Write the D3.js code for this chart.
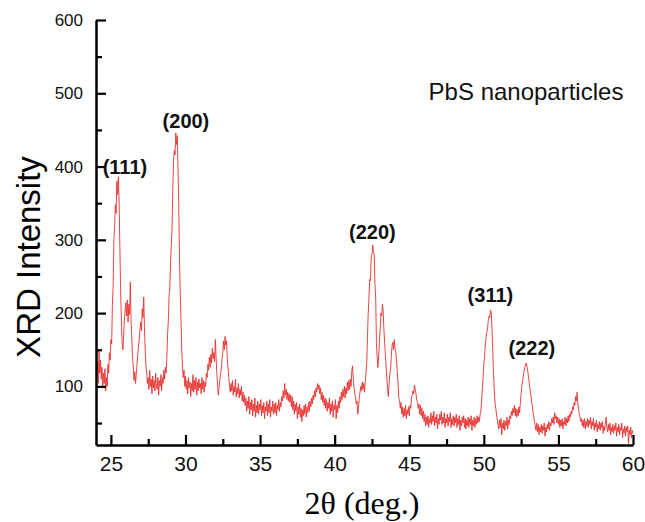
<!DOCTYPE html>
<html>
<head>
<meta charset="utf-8">
<script src="https://cdn.jsdelivr.net/npm/d3@7"></script>
<style>
  body { margin: 0; background: #fff; }
  svg { display: block; }
</style>
</head>
<body>
<div id="chart"></div>
<script>
'use strict'

// scan grid (2theta, degrees)
const scanStart = 24.0
const scanStep = 0.05

// intensities, one row per degree (x.00 .. x.95)
const intensity = [
	128, 112, 134, 104, 150, 118, 136, 110, 126, 98, 118, 104, 124, 94, 112, 100, 130, 118, 146, 136,           // 24
	164, 158, 212, 236, 300, 318, 348, 336, 380, 362, 386, 352, 290, 232, 190, 160, 150, 166, 190, 204,         // 25
	214, 196, 218, 188, 212, 198, 242, 190, 166, 140, 126, 108, 120, 104, 116, 130, 142, 156, 164, 178,         // 26
	188, 176, 206, 194, 222, 180, 148, 128, 118, 104, 112, 96, 122, 100, 110, 90, 114, 98, 108, 94,             // 27
	118, 100, 96, 112, 88, 108, 100, 116, 94, 112, 104, 122, 110, 126, 118, 140, 172, 190, 224, 236,            // 28
	270, 292, 316, 372, 408, 422, 416, 446, 430, 442, 396, 345, 272, 226, 190, 150, 126, 112, 122, 100,         // 29
	114, 96, 108, 90, 112, 98, 106, 86, 104, 94, 116, 92, 108, 96, 112, 88, 106, 94, 110, 98,                   // 30
	104, 90, 112, 96, 108, 92, 106, 100, 118, 112, 130, 122, 140, 126, 144, 132, 152, 138, 146, 134,            // 31
	164, 140, 118, 102, 88, 98, 108, 116, 124, 138, 146, 162, 150, 168, 156, 162, 138, 126, 112, 100,           // 32
	92, 104, 94, 108, 88, 100, 92, 110, 86, 98, 90, 104, 84, 96, 88, 100, 80, 92, 78, 88,                       // 33
	74, 84, 66, 80, 70, 86, 62, 78, 68, 82, 60, 76, 66, 84, 58, 74, 64, 80, 62, 76,                             // 34
	68, 82, 60, 74, 64, 78, 56, 72, 66, 80, 60, 76, 64, 82, 58, 72, 66, 80, 62, 76,                             // 35
	64, 78, 60, 74, 68, 82, 66, 78, 72, 86, 80, 94, 84, 104, 88, 96, 82, 92, 80, 90,                            // 36
	78, 88, 72, 86, 68, 80, 62, 76, 66, 78, 56, 72, 62, 76, 58, 70, 52, 68, 60, 74,                             // 37
	62, 76, 58, 72, 64, 78, 66, 80, 72, 84, 76, 88, 82, 94, 86, 98, 92, 104, 96, 102,                           // 38
	90, 98, 82, 92, 78, 88, 74, 84, 70, 82, 66, 78, 70, 84, 62, 76, 66, 80, 58, 74,                             // 39
	68, 82, 56, 74, 64, 80, 70, 86, 78, 92, 82, 96, 86, 100, 84, 98, 90, 106, 94, 108,                          // 40
	96, 110, 100, 122, 128, 110, 98, 90, 84, 76, 80, 62, 72, 84, 92, 100, 94, 106, 96, 104,                     // 41
	92, 106, 118, 132, 168, 200, 222, 246, 244, 276, 280, 293, 284, 280, 240, 222, 160, 140, 126, 140,          // 42
	160, 178, 200, 196, 212, 204, 178, 160, 144, 126, 110, 96, 86, 104, 118, 124, 142, 156, 160, 150,           // 43
	164, 152, 146, 134, 118, 104, 84, 82, 70, 78, 62, 72, 58, 70, 60, 74, 56, 68, 62, 72,                       // 44
	60, 74, 70, 84, 88, 94, 90, 102, 96, 90, 82, 78, 70, 76, 62, 74, 60, 70, 56, 66,                            // 45
	52, 62, 46, 58, 48, 60, 44, 56, 50, 64, 48, 60, 52, 66, 46, 58, 50, 62, 42, 56,                             // 46
	48, 62, 54, 66, 48, 58, 50, 64, 44, 56, 50, 62, 46, 58, 52, 64, 44, 56, 48, 60,                             // 47
	46, 58, 50, 62, 44, 56, 48, 60, 40, 54, 46, 58, 50, 60, 44, 56, 42, 54, 46, 58,                             // 48
	44, 56, 48, 60, 40, 54, 46, 58, 44, 56, 48, 60, 50, 58, 52, 62, 66, 80, 96, 112,                            // 49
	130, 140, 158, 166, 174, 180, 190, 196, 194, 204, 200, 178, 148, 118, 96, 78, 70, 62, 54, 48,               // 50
	42, 54, 44, 56, 34, 50, 42, 54, 40, 52, 46, 58, 42, 54, 48, 60, 56, 66, 60, 70,                             // 51
	64, 74, 60, 70, 58, 68, 60, 72, 64, 78, 90, 100, 108, 114, 122, 126, 130, 132, 126, 120,                    // 52
	112, 104, 96, 88, 80, 72, 64, 58, 52, 46, 40, 50, 38, 48, 34, 44, 38, 48, 36, 46,                           // 53
	40, 50, 32, 44, 38, 48, 42, 52, 40, 50, 46, 56, 50, 58, 48, 64, 56, 60, 50, 58,                             // 54
	48, 56, 44, 54, 46, 56, 42, 52, 48, 58, 46, 56, 50, 60, 52, 62, 58, 66, 62, 72,                             // 55
	68, 78, 74, 86, 80, 92, 76, 70, 62, 58, 52, 56, 46, 54, 44, 56, 42, 52, 46, 56,                             // 56
	44, 54, 48, 58, 42, 52, 46, 56, 40, 50, 44, 54, 38, 48, 42, 52, 40, 50, 44, 52,                             // 57
	36, 46, 40, 50, 58, 44, 38, 48, 40, 50, 34, 44, 38, 48, 36, 46, 40, 50, 32, 44,                             // 58
	38, 48, 34, 44, 40, 50, 30, 42, 36, 46, 32, 44, 38, 46, 22, 40, 34, 44, 30, 40,                             // 59
	36                                                                                                          // 60
]

const xMajorTicks = [25, 30, 35, 40, 45, 50, 55, 60]
const xMinorTicks = [27.5, 32.5, 37.5, 42.5, 47.5, 52.5, 57.5]
const yMajorTicks = [100, 200, 300, 400, 500, 600]
const yMinorTicks = [50, 150, 250, 350, 450, 550]

const peakLabels = ["(111)", "(200)", "(220)", "(311)", "(222)"]
const peakAngles = [25.94, 30.03, 42.53, 50.44, 53.22]
const peakLabelHeights = [390, 453, 301, 215, 143]

const sampleName = "PbS nanoparticles"

const width = 645, height = 522
const margin = {left: 96, right: 12, top: 20, bottom: 77}

const svg = d3.select("#chart").append("svg")
	.attr("width", width).attr("height", height)

svg.append("rect").attr("width", width).attr("height", height).attr("fill", "#fff")

const xScale = d3.scaleLinear().domain([24, 60]).range([margin.left, width - margin.right])
const yScale = d3.scaleLinear().domain([20, 600]).range([height - margin.bottom, margin.top])

const data = intensity.map(function(v, i){
	return {t: scanStart + i * scanStep, v: v}
})

// spectrum
const line = d3.line()
	.x(function(d){ return xScale(d.t) })
	.y(function(d){ return yScale(d.v) })

svg.append("path")
	.datum(data)
	.attr("d", line)
	.attr("fill", "none")
	.attr("stroke", "#e8302e")
	.attr("stroke-width", 0.9)

// axes, ticks pointing inward
const xAxis = svg.append("g")
	.attr("transform", "translate(0," + yScale.range()[0] + ")")
	.call(d3.axisBottom(xScale).tickValues(xMajorTicks).tickSizeInner(-10).tickSizeOuter(0).tickPadding(11))
svg.append("g")
	.attr("transform", "translate(0," + yScale.range()[0] + ")")
	.call(d3.axisBottom(xScale).tickValues(xMinorTicks).tickSizeInner(-6).tickSizeOuter(0).tickFormat(""))
	.select(".domain").remove()

const yAxis = svg.append("g")
	.attr("transform", "translate(" + xScale.range()[0] + ",0)")
	.call(d3.axisLeft(yScale).tickValues(yMajorTicks).tickSizeInner(-10).tickSizeOuter(0).tickPadding(13))
svg.append("g")
	.attr("transform", "translate(" + xScale.range()[0] + ",0)")
	.call(d3.axisLeft(yScale).tickValues(yMinorTicks).tickSizeInner(-6).tickSizeOuter(0).tickFormat(""))
	.select(".domain").remove()

svg.selectAll(".domain").attr("stroke", "#000").attr("stroke-width", 2.5)
svg.selectAll(".tick line").attr("stroke", "#000").attr("stroke-width", 2.2)

xAxis.selectAll("text")
	.attr("font-family", "'Liberation Sans', Arial, sans-serif")
	.attr("font-size", 21).attr("fill", "#111")
yAxis.selectAll("text")
	.attr("font-family", "'Liberation Sans', Arial, sans-serif")
	.attr("font-size", 17).attr("fill", "#111")

// axis titles
svg.append("text")
	.attr("transform", "translate(40,257) rotate(-90)")
	.attr("text-anchor", "middle")
	.attr("font-family", "'Liberation Sans', Arial, sans-serif")
	.attr("font-size", 33)
	.attr("fill", "#000")
	.text("XRD Intensity")

svg.append("text")
	.attr("x", 362).attr("y", 514)
	.attr("text-anchor", "middle")
	.attr("font-family", "'Liberation Serif', 'Times New Roman', serif")
	.attr("font-size", 32)
	.attr("fill", "#000")
	.text("2\u03b8 (deg.)")

// sample name
svg.append("text")
	.attr("x", 526).attr("y", 100)
	.attr("text-anchor", "middle")
	.attr("font-family", "'Liberation Sans', Arial, sans-serif")
	.attr("font-size", 24)
	.attr("fill", "#111")
	.text(sampleName)

// peak indices
svg.selectAll(".peak")
	.data(peakLabels)
	.enter()
	.append("text")
	.attr("class", "peak")
	.attr("x", function(d, i){ return xScale(peakAngles[i]) })
	.attr("y", function(d, i){ return yScale(peakLabelHeights[i]) })
	.attr("text-anchor", "middle")
	.attr("font-family", "'Liberation Sans', Arial, sans-serif")
	.attr("font-weight", "bold")
	.attr("font-size", 20)
	.attr("fill", "#111")
	.text(function(d){ return d })
</script>
</body>
</html>
